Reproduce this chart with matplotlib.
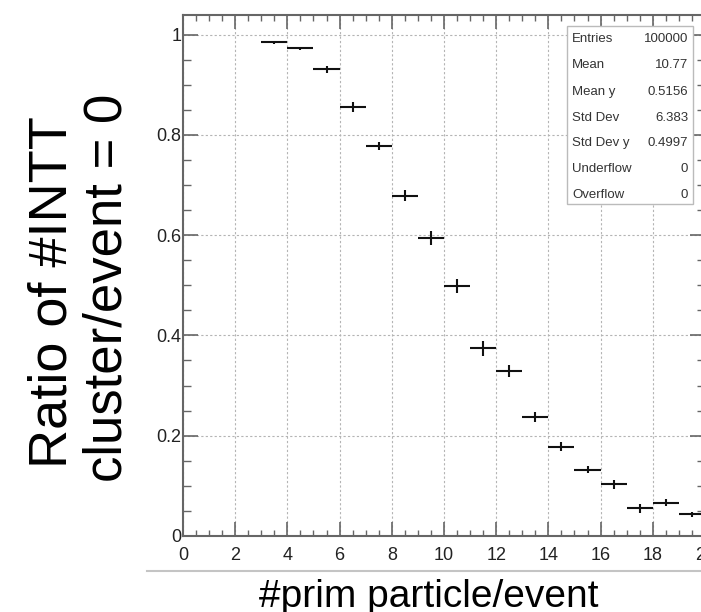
import matplotlib
matplotlib.use("Agg")
import matplotlib.pyplot as plt
from matplotlib.patches import Rectangle
from matplotlib.lines import Line2D
from matplotlib.ticker import MultipleLocator
import numpy as np

plt.rcParams['font.family'] = ['Liberation Sans', 'DejaVu Sans']

# Profile: fraction of events with zero INTT clusters, per bin of primary particles
bin_low = [3, 4, 5, 6, 7, 8, 9, 10, 11, 12, 13, 14, 15, 16, 17, 18, 19]
ratio = [0.985, 0.9725, 0.931, 0.856, 0.778, 0.679, 0.595, 0.499, 0.374,
         0.330, 0.237, 0.178, 0.132, 0.103, 0.055, 0.0665, 0.043]
ratio_err = [0.003, 0.003, 0.007, 0.010, 0.008, 0.011, 0.014, 0.014, 0.015,
             0.012, 0.010, 0.009, 0.007, 0.009, 0.009, 0.007, 0.005]

stat_names = ['Entries', 'Mean', 'Mean y', 'Std Dev', 'Std Dev y', 'Underflow', 'Overflow']
stat_values = ['100000', '10.77', '0.5156', '6.383', '0.4997', '0', '0']

W, H = 701, 612
fig = plt.figure(figsize=(W / 100, H / 100), dpi=100)


def fx(px):
    return px / W


def fy(py):
    return 1 - py / H


ax_l, ax_r, ax_t, ax_b = 183, 705, 15, 536
ax = fig.add_axes([fx(ax_l), fy(ax_b), fx(ax_r) - fx(ax_l), fy(ax_t) - fy(ax_b)])

centers = np.array(bin_low) + 0.5
ax.errorbar(centers, ratio, xerr=0.5, yerr=ratio_err, fmt='none',
            ecolor='#111111', elinewidth=1.5, capsize=0, zorder=3)

ax.set_xlim(0, 20)
ax.set_ylim(0, 1.039)
ax.xaxis.set_major_locator(MultipleLocator(2))
ax.xaxis.set_minor_locator(MultipleLocator(0.5))
ax.yaxis.set_major_locator(MultipleLocator(0.2))
ax.yaxis.set_minor_locator(MultipleLocator(0.05))
ax.xaxis.set_major_formatter(plt.FuncFormatter(lambda v, p: f"{v:g}"))
ax.yaxis.set_major_formatter(plt.FuncFormatter(lambda v, p: f"{v:g}"))

ax.grid(True, which='major', color='#b4b4b4', linestyle=(0, (2, 2)), linewidth=0.8)
ax.set_axisbelow(True)

for s in ax.spines.values():
    s.set_color('#666666')
    s.set_linewidth(1.5)

ax.tick_params(axis='both', which='both', direction='in', top=True, right=True,
               color='#666666', labelcolor='#222222')
ax.tick_params(axis='x', which='major', length=10, width=1.2, pad=8, labelsize=13)
ax.tick_params(axis='x', which='minor', length=4.5, width=1.0)
ax.tick_params(axis='y', which='major', length=11, width=1.2, pad=1, labelsize=13)
ax.tick_params(axis='y', which='minor', length=6, width=1.0)

# statistics box
bx0, by0, bx1, by1 = 567, 26, 693, 204
fig.add_artist(Rectangle((fx(bx0), fy(by1)), fx(bx1) - fx(bx0), fy(by0) - fy(by1),
                         transform=fig.transFigure, facecolor='white',
                         edgecolor='#bbbbbb', linewidth=1.0, zorder=5))
row_y = [39, 65, 92, 118, 143, 169, 195]
for name, val, ry in zip(stat_names, stat_values, row_y):
    fig.text(fx(572), fy(ry), name, ha='left', va='center', fontsize=9.5,
             color='#333333', zorder=6)
    fig.text(fx(688), fy(ry), val, ha='right', va='center', fontsize=9.5,
             color='#333333', zorder=6)

# separator line above the x title
fig.add_artist(Line2D([fx(147), 1.0], [fy(571), fy(571)], transform=fig.transFigure,
                      color='#c4c4c4', linewidth=1.5))

fig.text(fx(429), fy(607), '#prim particle/event', ha='center', va='baseline',
         fontsize=28, color='black')

fig.text(fx(67), fy(292), 'Ratio of #INTT', rotation=90, rotation_mode='anchor',
         ha='center', va='baseline', fontsize=39, color='black')
fig.text(fx(122), fy(288), 'cluster/event = 0', rotation=90, rotation_mode='anchor',
         ha='center', va='baseline', fontsize=38, color='black')

fig.savefig('out.png', dpi=100)
